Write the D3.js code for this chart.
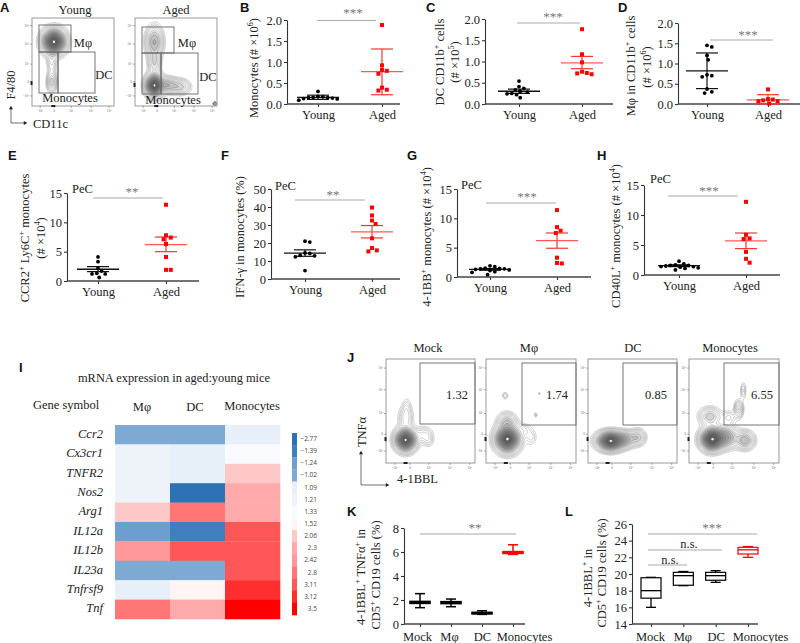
<!DOCTYPE html>
<html><head><meta charset="utf-8">
<style>html,body{margin:0;padding:0;background:#fff}svg{display:block}
text{font-family:"Liberation Serif",serif;fill:#222}
.letter{font-family:"Liberation Sans",sans-serif;font-weight:700;font-size:13px;fill:#111}
</style>
<script src="https://cdn.jsdelivr.net/npm/d3@7"></script></head><body>
<svg id="c" width="800" height="643"></svg>
<script>
// ---------- data ----------
const groups = ["Young","Aged"];
const bYoung=[.30,.18,.17,.16,.15,.15,.14,.13,.12,.09], bAged=[1.88,.92,.81,.79,.72,.39,.34,.32];
const bStats=[[.16,.11,.21],[.77,.22,1.31]];
const cYoung=[.54,.41,.37,.33,.30,.28,.25,.24,.22,.15], cAged=[1.76,1.17,.98,.76,.73,.72,.70];
const cStats=[[.30,.25,.35],[.97,.83,1.12]];
const dYoung=[1.45,1.41,1.2,1.09,.72,.70,.67,.37,.30,.27], dAged=[.36,.12,.11,.09,.07,.07,.01];
const dStats=[[.82,.38,1.26],[.10,0,.23]];
const eYoung=[4.1,3.3,2.2,1.7,1.3,1.2,1.2,.6], eAged=[13,7.8,7.4,7.1,6.3,4.1,1.9,1.9];
const eStats=[[2.0,1.6,2.45],[6.2,5,7.5]];
const fYoung=[21,20.5,14.5,14.2,13.2,12.9,12.3,4.7], fAged=[39.7,35.3,32.5,30.6,22.6,17.2,15.9,15.3];
const fStats=[[14.4,12.6,16.2],[26.2,22.8,29.7]];
const gYoung=[1.9,1.75,1.5,1.45,1.4,1.4,1.3,1.2,1.1,.9,.8,.4], gAged=[11.4,8.5,7.9,7.5,3.3,2.4,2.3];
const gStats=[[1.3,1.15,1.45],[6.2,4.9,7.5]];
const hYoung=[2.3,1.85,1.7,1.6,1.6,1.5,1.4,1.4,1.3,1.2,1.1,.85], hAged=[12.2,6.7,6.1,6.0,3.85,2.7,2.05];
const hStats=[[1.55,1.4,1.7],[5.7,4.4,7.0]];
const ticks2=[0,.5,1,1.5,2], ticks15=[0,5,10,15], ticks50=[0,10,20,30,40,50];

const genes=["Ccr2","Cx3cr1","TNFR2","Nos2","Arg1","IL12a","IL12b","IL23a","Tnfrsf9","Tnf"];
const cellTypes=["Mφ","DC","Monocytes"];
const expr=[[-1.02,-1.02,1.09],[1.21,1.09,1.33],[1.21,1.09,2.06],[1.21,-2.77,2.3],[2.06,2.8,2.3],
 [-1.24,-1.39,3.11],[2.42,3.11,3.11],[-1.02,-1.02,3.11],[1.09,1.52,3.12],[2.8,2.3,3.5]];
const levels=[-2.77,-1.39,-1.24,-1.02,1.09,1.21,1.33,1.52,2.06,2.3,2.42,2.8,3.11,3.12,3.5];
const levelColors=["#2e72b6","#3f7fbd","#6c9fcf","#7ea9d3","#e7eff8","#eef3fa","#f8fafd","#fff5f5","#ffc8c8","#ffaaaa","#ff9898","#ff7676","#ff5757","#ff2f2f","#ff0000"];

const treatments=["Mock","Mφ","DC","Monocytes"];
// low whisker, q1, median, q3, high whisker
const kBoxes=[[1.36,1.72,1.8,1.88,2.53],[1.44,1.7,1.78,1.86,2.08],[.8,.84,.9,.97,1.1],[5.8,5.88,5.95,6.03,6.6]];
const lBoxes=[[16,17.1,18,19.55,19.6],[18.6,18.65,19.8,20.2,20.3],[19,19.25,19.8,20.2,20.4],[22,22.4,22.9,23.2,23.3]];
const kTicks=[0,2,4,6,8], lTicks=[14,16,18,20,22,24,26];

// flow cytometry density peaks: frame fraction x, y, spread x, spread y, height
const flowYoung=[[.265,.267,.08,.08,1],[.237,.725,.035,.065,.22],[.237,.5,.035,.085,.1]];
const flowAged=[[.233,.267,.06,.1,.32],[.233,.763,.06,.07,1],[.4,.76,.07,.05,.28],[.55,.78,.07,.05,.2],[.233,.5,.045,.08,.18],[.97,.97,.012,.012,.2]];
const flowMock=[[.217,.776,.065,.06,1],[.22,.56,.05,.07,.12],[.23,.45,.03,.05,.05],[.42,.72,.06,.045,.1],[.47,.78,.04,.04,.07]];
const flowMphi=[[.235,.767,.075,.07,1],[.23,.6,.06,.05,.22],[.42,.68,.05,.04,.07],[.5,.75,.04,.05,.06],[.21,.35,.022,.022,.07],[.55,.535,.012,.015,.06],[.59,.33,.008,.008,.05]];
const flowDC=[[.25,.786,.085,.05,1],[.42,.77,.07,.045,.3],[.56,.75,.05,.045,.2]];
const flowMono=[[.25,.77,.07,.06,1],[.4,.75,.08,.06,.4],[.62,.78,.06,.05,.3],[.23,.55,.07,.05,.22],[.44,.56,.05,.04,.08],[.55,.48,.03,.05,.18],[.6,.3,.02,.05,.08]];
const flowLevels=[.025,.04,.055,.075,.1,.135,.18,.24,.31,.39,.48,.58,.69,.8,.9];
const flowTickLabels=["-10³","0","10³","10⁴","10⁵"];
const flowTickFrac=[.1,.27,.48,.72,.94];
const gateValues=["1.32","1.74","0.85","6.55"];

// ---------- helpers ----------
const svg=d3.select("#c");
function rich(x,y,str,o={}){
  const t=svg.append("text").attr("text-anchor",o.anchor||"middle").attr("font-size",o.size||12.5)
    .attr("dominant-baseline","middle").attr("font-style",o.italic?"italic":null);
  t.attr("transform",`translate(${x},${y})`+(o.rot?" rotate(-90)":""));
  str.split("^").forEach((s,i)=>{
    if(!s)return;
    const sp=t.append("tspan").text(s);
    if(i%2){sp.attr("font-size",(o.size||12.5)*.65).attr("dy",-(o.size||12.5)*.35);}
    else if(i>0){sp.attr("dy",(o.size||12.5)*.35);}
  });
  return t;
}
function letter(s,x,y){svg.append("text").attr("class","letter").attr("x",x).attr("y",y).text(s);}
function styleAxis(g){g.selectAll("path,line").attr("stroke","#333").attr("stroke-width",1.1);
  g.selectAll("text").attr("font-family","Liberation Serif").attr("fill","#222").attr("font-size",12.5);}
function yAxis(x,y,ticks,fmt){const g=svg.append("g").attr("transform",`translate(${x},0)`)
  .call(d3.axisLeft(y).tickValues(ticks).tickSize(3).tickSizeOuter(0).tickPadding(2).tickFormat(d3.format(fmt)));styleAxis(g);return g;}
function xAxis(yPos,x,x0,x1,lab){
  const g=svg.append("g").attr("transform",`translate(0,${yPos})`).call(d3.axisBottom(x).tickSize(3).tickSizeOuter(0).tickPadding(lab||3));
  styleAxis(g);g.select(".domain").remove();
  svg.append("line").attr("x1",x0).attr("x2",x1).attr("y1",yPos).attr("y2",yPos).attr("stroke","#444").attr("stroke-width",1.4);
  return g;
}
function sig(x0,x1,yy,txt,tx,ty){
  svg.append("line").attr("x1",x0).attr("x2",x1).attr("y1",yy).attr("y2",yy).attr("stroke","#aaa").attr("stroke-width",1);
  const star=txt.includes("*");
  svg.append("text").attr("x",tx).attr("y",ty+4).attr("text-anchor","middle").attr("font-size",star?13:12.5)
    .style("fill",star?"#777":"#222").text(txt);
}
function swarm(vals,y,d){
  const placed=[];
  return vals.map(v=>{
    const py=y(v);let k=0,off=0;
    for(;;){
      const sgn=k%2?1:-1;off=k===0?0:sgn*Math.ceil(k/2)*1.2;
      if(placed.every(p=>Math.hypot(p[0]-off,p[1]-py)>=d))break;k++;
    }
    placed.push([off,py]);return {v,off};
  });
}
function scatter(p){
  const y=d3.scaleLinear().domain(p.yDom).range([p.y0,p.y1]);
  const x=d3.scalePoint().domain(groups).range(p.cx);
  yAxis(p.ax,y,p.ticks,p.fmt);
  xAxis(p.y0,x,p.ax,p.xEnd);
  [[p.young,"#000","#111",0],[p.aged,"#f00","#f33",1]].forEach(([vals,col,lc,i])=>{
    const cx=x(groups[i]),[m,lo,hi]=p.stats[i];
    const g=svg.append("g");
    g.append("line").attr("x1",cx).attr("x2",cx).attr("y1",y(lo)).attr("y2",y(hi)).attr("stroke",lc).attr("stroke-width",1.2);
    [lo,hi].forEach(v=>g.append("line").attr("x1",cx-11).attr("x2",cx+11).attr("y1",y(v)).attr("y2",y(v)).attr("stroke",lc).attr("stroke-width",1.2));
    g.append("line").attr("x1",cx-21).attr("x2",cx+21).attr("y1",y(m)).attr("y2",y(m)).attr("stroke",i?"#ff5a5a":"#111").attr("stroke-width",1.3);
    const pts=swarm(vals,y,4.6);
    if(i===0) g.selectAll("circle").data(pts).join("circle").attr("cx",d=>cx+d.off).attr("cy",d=>y(d.v)).attr("r",1.9).attr("fill",col);
    else g.selectAll("rect").data(pts).join("rect").attr("x",d=>cx+d.off-2).attr("y",d=>y(d.v)-2).attr("width",4).attr("height",4).attr("fill",col);
  });
  p.titles.forEach(t=>rich(t[0],t[1],t[2],{rot:1}));
  if(p.pec) rich(p.pec[0],p.pec[1],"PeC",{anchor:"start"});
  sig(...p.sig);
}
function flow(f){
  const x=d3.scaleLinear().domain([0,1]).range([f.x0,f.x1]),y=d3.scaleLinear().domain([0,1]).range([f.y0,f.y1]);
  const w=f.x1-f.x0,h=f.y1-f.y0,S=2,nx=Math.round(w*S),ny=Math.round(h*S),grid=new Float64Array(nx*ny);
  for(let j=0;j<ny;j++)for(let i=0;i<nx;i++){
    const fx=i/nx,fy=j/ny;let s=0;
    f.peaks.forEach(([a,b,c,d,e])=>{s+=e*Math.exp(-.5*(((fx-a)/c)**2+((fy-b)/d)**2));});
    grid[j*nx+i]=s;
  }
  const path=d3.geoPath(d3.geoTransform({point(a,b){this.stream.point(x(a/nx),y(b/ny));}}));
  const g=svg.append("g");
  g.append("defs").append("clipPath").attr("id",f.id).append("rect").attr("x",f.x0).attr("y",f.y0).attr("width",w).attr("height",h);
  const body=g.append("g").attr("clip-path",`url(#${f.id})`);
  const cs=d3.contours().size([nx,ny]).thresholds(flowLevels)(grid);
  body.selectAll("path.lvl").data(cs).join("path").attr("class","lvl").attr("d",path)
    .attr("fill","#000").attr("fill-opacity",(d,i)=>i<5?.0:.09)
    .attr("stroke","#333").attr("stroke-opacity",.5).attr("stroke-width",.45);
  const core=d3.contours().size([nx,ny]).thresholds([d3.max(grid)*.985])(grid);
  body.selectAll("path.core").data(core).join("path").attr("class","core").attr("d",path).attr("fill","#fff");
  g.append("rect").attr("x",f.x0).attr("y",f.y0).attr("width",w).attr("height",h).attr("fill","none").attr("stroke","#999").attr("stroke-width",1);
  f.gates.forEach(r=>g.append("rect").attr("x",r[0]).attr("y",r[1]).attr("width",r[2]-r[0]).attr("height",r[3]-r[1]).attr("fill","none").attr("stroke","#666").attr("stroke-width",.9));
  // log-axis ticks with tiny labels
  flowTickFrac.forEach((t,i)=>{
    const px=x(t),py=y(1-t*.95-.02);
    g.append("line").attr("x1",px).attr("x2",px).attr("y1",f.y1).attr("y2",f.y1+2).attr("stroke","#777").attr("stroke-width",.6);
    g.append("line").attr("x1",f.x0-2).attr("x2",f.x0).attr("y1",py).attr("y2",py).attr("stroke","#777").attr("stroke-width",.6);
    g.append("text").attr("x",px).attr("y",f.y1+6).attr("text-anchor","middle").attr("font-size",3.5).style("fill","#777").text(flowTickLabels[i]);
    g.append("text").attr("x",f.x0-3).attr("y",py+1).attr("text-anchor","end").attr("font-size",3.5).style("fill","#777").text(flowTickLabels[i]);
  });
  g.append("rect").attr("x",x(f.pile)-2).attr("y",f.y1-1).attr("width",4).attr("height",2).attr("fill","#222");
  g.append("rect").attr("x",f.x0-1.5).attr("y",y(f.pileY)-2).attr("width",2).attr("height",4).attr("fill","#222");
}
function arrow(x,yTop,yCorner,xEnd){
  const g=svg.append("g").attr("stroke","#333").attr("stroke-width",.7).attr("fill","none");
  g.append("path").attr("d",`M${x},${yTop}L${x},${yCorner}L${xEnd},${yCorner}`);
  svg.append("path").attr("d",d3.symbol(d3.symbolTriangle,7)()).attr("transform",`translate(${x},${yTop})`).attr("fill","#222");
  svg.append("path").attr("d",d3.symbol(d3.symbolTriangle,7)()).attr("transform",`translate(${xEnd},${yCorner}) rotate(90)`).attr("fill","#222");
}
function boxes(p){
  const y=d3.scaleLinear().domain(p.yDom).range([p.y0,p.y1]);
  const x=d3.scalePoint().domain(treatments).range(p.cx);
  yAxis(p.ax,y,p.ticks,"d");
  const ax=xAxis(p.y0,x,p.ax,p.xEnd,5);
  ax.selectAll(".tick text").attr("dx",(d,i)=>p.labelShift[i]);
  p.data.forEach((b,i)=>{
    const cx=x(treatments[i]),c=i===3?"#f00":"#000",w=p.thick?1.5:1.3,g=svg.append("g").attr("stroke",c).attr("stroke-width",w);
    g.append("line").attr("x1",cx).attr("x2",cx).attr("y1",y(b[0])).attr("y2",y(b[4]));
    [b[0],b[4]].forEach(v=>g.append("line").attr("x1",cx-5).attr("x2",cx+5).attr("y1",y(v)).attr("y2",y(v)));
    g.append("rect").attr("x",cx-10).attr("y",y(b[3])).attr("width",20).attr("height",y(b[1])-y(b[3])).attr("fill","#fff").attr("stroke-width",p.thick?1.6:1.2);
    g.append("line").attr("x1",cx-10).attr("x2",cx+10).attr("y1",y(b[2])).attr("y2",y(b[2]));
  });
  p.titles.forEach(t=>rich(t[0],t[1],t[2],{rot:1}));
  p.sigs.forEach(s=>sig(...s));
}

// ---------- A ----------
letter("A",0,12);letter("B",240,12);letter("C",426,12);letter("D",618,12);
letter("E",8,160);letter("F",221,160);letter("G",407,160);letter("H",597,160);
letter("I",19,372);letter("J",347,362);letter("K",347,516);letter("L",565,516);
flow({id:"fa1",x0:32,x1:114,y0:18,y1:106,peaks:flowYoung,gates:[[39,25,71,52],[39,52,58,93],[58,52,95,93]],pile:.26,pileY:.74});
flow({id:"fa2",x0:135,x1:217,y0:18,y1:106,peaks:flowAged,gates:[[142,27,174,53],[142,53,161,94],[161,53,198,94]],pile:.26,pileY:.76});
rich(75,11,"Young");rich(176,11,"Aged");
rich(83,44,"Mφ");rich(104,76,"DC");rich(70,99,"Monocytes");
rich(187,44,"Mφ");rich(208,78,"DC");rich(173,101,"Monocytes");
rich(12,85,"F4/80",{rot:1});rich(33,125,"CD11c",{anchor:"start"});
arrow(11,108,123,25);

// ---------- B–H ----------
scatter({young:bYoung,aged:bAged,stats:bStats,yDom:[0,2],y0:104,y1:20,ticks:ticks2,fmt:".1f",ax:287,xEnd:400,cx:[318,382],
 titles:[[255,68,"Monocytes (# ×10^6^)"]],sig:[317,376,20.5,"***",353,13]});
scatter({young:cYoung,aged:cAged,stats:cStats,yDom:[0,2],y0:104,y1:19,ticks:ticks2,fmt:".1f",ax:485,xEnd:613,cx:[519,582],
 titles:[[441,62,"DC CD11b^+^ cells"],[456,62,"(# ×10^5^)"]],sig:[517,580,23,"***",553,17]});
scatter({young:dYoung,aged:dAged,stats:dStats,yDom:[0,2],y0:104,y1:23,ticks:ticks2,fmt:".1f",ax:678,xEnd:800,cx:[707,768],
 titles:[[632,66,"Mφ in CD11b^+^ cells"],[648,67,"(# ×10^6^)"]],sig:[710,773,40,"***",748,35]});
scatter({young:eYoung,aged:eAged,stats:eStats,yDom:[0,15],y0:281,y1:193,ticks:ticks15,fmt:"d",ax:67,xEnd:199,cx:[98,166],
 titles:[[26,238,"CCR2^+^ Ly6C^+^ monocytes"],[42,238,"(# ×10^4^)"]],pec:[72,190],sig:[93,163,198,"**",132,192]});
scatter({young:fYoung,aged:fAged,stats:fStats,yDom:[0,50],y0:279,y1:189,ticks:ticks50,fmt:"d",ax:271,xEnd:400,cx:[305,372],
 titles:[[241,237,"IFN-γ in monocytes (%)"]],pec:[275,187],sig:[295,365,200,"**",333,195]});
scatter({young:gYoung,aged:gAged,stats:gStats,yDom:[0,15],y0:277,y1:189,ticks:ticks15,fmt:"d",ax:457,xEnd:591,cx:[490,557],
 titles:[[428,237,"4-1BB^+^ monocytes (# ×10^4^)"]],pec:[461,186],sig:[486,556,203,"***",527,197]});
scatter({young:hYoung,aged:hAged,stats:hStats,yDom:[0,15],y0:275,y1:185,ticks:ticks15,fmt:"d",ax:644,xEnd:780,cx:[679,746],
 titles:[[617,236,"CD40L^+^ monocytes (# ×10^4^)"]],pec:[650,180],sig:[668,738,196,"***",709,191]});

// ---------- I heatmap ----------
const hx=d3.scaleBand().domain(cellTypes).range([115,280]);
const hy=d3.scaleBand().domain(genes).range([425,619]);
const hc=d3.scaleOrdinal().domain(levels).range(levelColors);
svg.append("g").selectAll("g").data(expr).join("g").attr("transform",(d,i)=>`translate(0,${hy(genes[i])})`)
 .selectAll("rect").data(d=>d).join("rect").attr("x",(d,i)=>hx(cellTypes[i])).attr("width",hx.bandwidth()+.3).attr("height",hy.bandwidth()+.3).attr("fill",d=>hc(d));
genes.forEach(g=>rich(103,hy(g)+hy.bandwidth()/2,g,{anchor:"end",italic:1}));
rich(174,379,"mRNA expression in aged:young mice",{size:12.4});
rich(33,406,"Gene symbol",{anchor:"start"});
rich(142,408,"Mφ");rich(195,408,"DC");rich(252,407,"Monocytes");
const by=d3.scaleBand().domain(levels.map(String)).range([433,615]);
levels.forEach(l=>{
  svg.append("rect").attr("x",292).attr("y",by(String(l))).attr("width",5).attr("height",by.bandwidth()+.3).attr("fill",hc(l));
  svg.append("text").attr("x",317).attr("y",by(String(l))+by.bandwidth()/2+2).attr("text-anchor","end")
   .attr("font-size",6.5).style("font-family",'"Open Sans"').style("fill","#444").text(String(l).replace("-","−"));
});

// ---------- J ----------
const jFrames=[[386,475,flowMock,420,424,"Mock",428,457],[486,576,flowMphi,522,425,"Mφ",529,557],[588,677,flowDC,623,425,"DC",633,656],[689,779,flowMono,724,425,"Monocytes",730,762]];
jFrames.forEach((j,i)=>{
  flow({id:"fj"+i,x0:j[0],x1:j[1],y0:359,y1:463,peaks:j[2],gates:[[j[3],363,j[1],j[4]]],pile:.22,pileY:.77});
  rich(j[6],349,j[5]);
  rich(j[7],396,gateValues[i]);
});
rich(363,432,"TNFα",{rot:1});rich(397,480,"4-1BBL",{anchor:"start"});
arrow(361,453,485,387);

// ---------- K, L ----------
boxes({data:kBoxes,yDom:[0,8],y0:624,y1:528,ticks:kTicks,ax:404,xEnd:525,cx:[420,513],thick:1,labelShift:[-3,-2,0,11],
 titles:[[362,577,"4-1BBL^+^ TNFα^+^ in"],[377,575,"CD5^+^ CD19 cells (%)"]],sigs:[[420,516,534,"**",475,528]]});
boxes({data:lBoxes,yDom:[14,26],y0:624,y1:524,ticks:lTicks,ax:632,xEnd:758,cx:[651,748],labelShift:[-1,-1,0,12],
 titles:[[589,578,"4-1BBL^+^ in"],[603,573,"CD5^+^ CD19 cells (%)"]],
 sigs:[[648,757,534,"***",712,528],[648,722,550,"n.s.",689,544],[648,687,565,"n.s.",670,560]]});
</script></body></html>
